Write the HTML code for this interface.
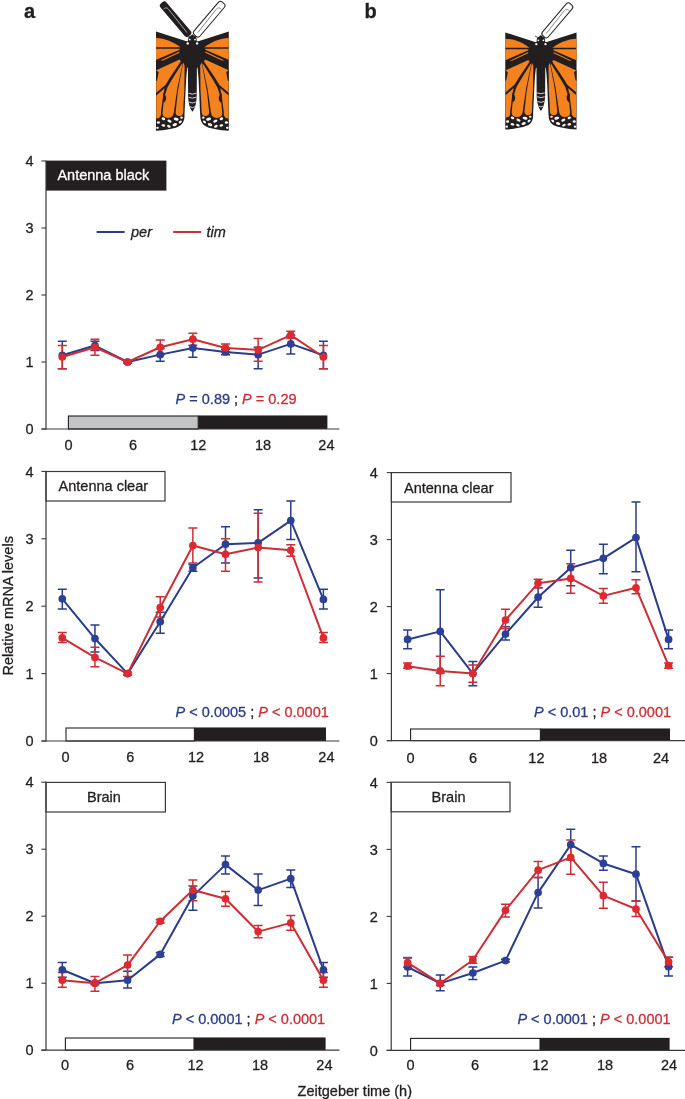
<!DOCTYPE html>
<html><head><meta charset="utf-8"><title>Figure</title>
<style>
html,body{margin:0;padding:0;background:#fff;}
body{width:685px;height:1099px;overflow:hidden;}
svg{display:block;font-family:"Liberation Sans", sans-serif;will-change:transform;filter:blur(0.3px);}
text,tspan{stroke-linejoin:round;}
</style></head><body>
<svg width="685" height="1099" viewBox="0 0 685 1099">
<rect width="685" height="1099" fill="#fff"/>
<rect x="46" y="160.6" width="120.4" height="30" fill="#231f20"/>
<text x="57.4" y="180.2" fill="#ffffff" font-size="14.5" stroke="#ffffff" stroke-width="0.3">Antenna black</text>
<line x1="46" y1="160.6" x2="46" y2="429.6" stroke="#3a3a3a" stroke-width="1.2"/>
<line x1="41.4" y1="429" x2="46" y2="429" stroke="#3a3a3a" stroke-width="1.1"/>
<text x="33.6" y="434.1" fill="#231f20" font-size="14.5" text-anchor="end" stroke="#231f20" stroke-width="0.3">0</text>
<line x1="41.4" y1="362" x2="46" y2="362" stroke="#3a3a3a" stroke-width="1.1"/>
<text x="33.6" y="367.1" fill="#231f20" font-size="14.5" text-anchor="end" stroke="#231f20" stroke-width="0.3">1</text>
<line x1="41.4" y1="295" x2="46" y2="295" stroke="#3a3a3a" stroke-width="1.1"/>
<text x="33.6" y="300.1" fill="#231f20" font-size="14.5" text-anchor="end" stroke="#231f20" stroke-width="0.3">2</text>
<line x1="41.4" y1="228" x2="46" y2="228" stroke="#3a3a3a" stroke-width="1.1"/>
<text x="33.6" y="233.1" fill="#231f20" font-size="14.5" text-anchor="end" stroke="#231f20" stroke-width="0.3">3</text>
<line x1="41.4" y1="161" x2="46" y2="161" stroke="#3a3a3a" stroke-width="1.1"/>
<text x="33.6" y="166.1" fill="#231f20" font-size="14.5" text-anchor="end" stroke="#231f20" stroke-width="0.3">4</text>
<rect x="68.4" y="416" width="129.8" height="13" fill="#c2c4c6" stroke="#231f20" stroke-width="1.1"/>
<rect x="198.2" y="415.45" width="129.2" height="13.55" fill="#231f20"/>
<line x1="41.4" y1="429" x2="339.4" y2="429" stroke="#3a3a3a" stroke-width="1.2"/>
<text x="68.6" y="450" fill="#231f20" font-size="14.5" text-anchor="middle" stroke="#231f20" stroke-width="0.3">0</text>
<text x="133" y="450" fill="#231f20" font-size="14.5" text-anchor="middle" stroke="#231f20" stroke-width="0.3">6</text>
<text x="198.2" y="450" fill="#231f20" font-size="14.5" text-anchor="middle" stroke="#231f20" stroke-width="0.3">12</text>
<text x="263" y="450" fill="#231f20" font-size="14.5" text-anchor="middle" stroke="#231f20" stroke-width="0.3">18</text>
<text x="326.4" y="450" fill="#231f20" font-size="14.5" text-anchor="middle" stroke="#231f20" stroke-width="0.3">24</text>
<text x="175.6" y="403.6" font-size="14.5" xml:space="preserve"><tspan fill="#2b3c88" font-style="italic" stroke="#2b3c88" stroke-width="0.3">P</tspan><tspan fill="#2b3c88" stroke="#2b3c88" stroke-width="0.3">&#160;=&#160;0.89&#160;</tspan><tspan fill="#231f20" stroke="#231f20" stroke-width="0.3">;&#160;</tspan><tspan fill="#cc2e36" font-style="italic" stroke="#cc2e36" stroke-width="0.3">P</tspan><tspan fill="#cc2e36" stroke="#cc2e36" stroke-width="0.3">&#160;=&#160;0.29</tspan></text>
<path d="M62.3 341.23V368.7M57.8 341.23h9M57.8 368.7h9M94.94 341.23V350.61M90.44 341.23h9M90.44 350.61h9M127.58 360.66V363.34M123.08 360.66h9M123.08 363.34h9M160.22 348.6V361.33M155.72 348.6h9M155.72 361.33h9M192.86 340.56V357.31M188.36 340.56h9M188.36 357.31h9M225.5 349.27V354.63M221 349.27h9M221 354.63h9M258.14 347.26V368.7M253.64 347.26h9M253.64 368.7h9M290.78 335.2V353.96M286.28 335.2h9M286.28 353.96h9M323.42 341.23V368.7M318.92 341.23h9M318.92 368.7h9" stroke="#2b3c88" stroke-width="1.5" fill="none"/>
<path d="M62.3 345.58V368.7M57.8 345.58h9M57.8 368.7h9M94.94 339.22V355.3M90.44 339.22h9M90.44 355.3h9M127.58 360.66V363.34M123.08 360.66h9M123.08 363.34h9M160.22 339.89V354.63M155.72 339.89h9M155.72 354.63h9M192.86 333.19V345.25M188.36 333.19h9M188.36 345.25h9M225.5 343.91V351.95M221 343.91h9M221 351.95h9M258.14 338.55V361.33M253.64 338.55h9M253.64 361.33h9M290.78 331.18V338.55M286.28 331.18h9M286.28 338.55h9M323.42 345.58V368.7M318.92 345.58h9M318.92 368.7h9" stroke="#cc2e36" stroke-width="1.5" fill="none"/>
<polyline points="62.3,355.3 94.94,345.58 127.58,362 160.22,354.63 192.86,347.93 225.5,351.95 258.14,354.63 290.78,343.91 323.42,355.3" stroke="#2b3c88" stroke-width="2" fill="none" stroke-linejoin="round"/>
<polyline points="62.3,356.98 94.94,347.26 127.58,362 160.22,347.26 192.86,339.22 225.5,347.93 258.14,349.94 290.78,335.2 323.42,356.98" stroke="#cc2e36" stroke-width="2" fill="none" stroke-linejoin="round"/>
<circle cx="62.3" cy="355.3" r="3.85" fill="#2c4193"/>
<circle cx="94.94" cy="345.58" r="3.85" fill="#2c4193"/>
<circle cx="127.58" cy="362" r="3.85" fill="#2c4193"/>
<circle cx="160.22" cy="354.63" r="3.85" fill="#2c4193"/>
<circle cx="192.86" cy="347.93" r="3.85" fill="#2c4193"/>
<circle cx="225.5" cy="351.95" r="3.85" fill="#2c4193"/>
<circle cx="258.14" cy="354.63" r="3.85" fill="#2c4193"/>
<circle cx="290.78" cy="343.91" r="3.85" fill="#2c4193"/>
<circle cx="323.42" cy="355.3" r="3.85" fill="#2c4193"/>
<circle cx="62.3" cy="356.98" r="3.85" fill="#dd2a30"/>
<circle cx="94.94" cy="347.26" r="3.85" fill="#dd2a30"/>
<circle cx="127.58" cy="362" r="3.85" fill="#dd2a30"/>
<circle cx="160.22" cy="347.26" r="3.85" fill="#dd2a30"/>
<circle cx="192.86" cy="339.22" r="3.85" fill="#dd2a30"/>
<circle cx="225.5" cy="347.93" r="3.85" fill="#dd2a30"/>
<circle cx="258.14" cy="349.94" r="3.85" fill="#dd2a30"/>
<circle cx="290.78" cy="335.2" r="3.85" fill="#dd2a30"/>
<circle cx="323.42" cy="356.98" r="3.85" fill="#dd2a30"/>
<rect x="46" y="471.5" width="119" height="29.5" fill="#fff" stroke="#3a3a3a" stroke-width="1.2"/>
<text x="58.6" y="491.2" fill="#231f20" font-size="14.5" stroke="#231f20" stroke-width="0.3">Antenna clear</text>
<line x1="46" y1="471" x2="46" y2="741.6" stroke="#3a3a3a" stroke-width="1.2"/>
<line x1="41.4" y1="741" x2="46" y2="741" stroke="#3a3a3a" stroke-width="1.1"/>
<text x="33.6" y="746.1" fill="#231f20" font-size="14.5" text-anchor="end" stroke="#231f20" stroke-width="0.3">0</text>
<line x1="41.4" y1="673.6" x2="46" y2="673.6" stroke="#3a3a3a" stroke-width="1.1"/>
<text x="33.6" y="678.7" fill="#231f20" font-size="14.5" text-anchor="end" stroke="#231f20" stroke-width="0.3">1</text>
<line x1="41.4" y1="606.2" x2="46" y2="606.2" stroke="#3a3a3a" stroke-width="1.1"/>
<text x="33.6" y="611.3" fill="#231f20" font-size="14.5" text-anchor="end" stroke="#231f20" stroke-width="0.3">2</text>
<line x1="41.4" y1="538.8" x2="46" y2="538.8" stroke="#3a3a3a" stroke-width="1.1"/>
<text x="33.6" y="543.9" fill="#231f20" font-size="14.5" text-anchor="end" stroke="#231f20" stroke-width="0.3">3</text>
<line x1="41.4" y1="471.4" x2="46" y2="471.4" stroke="#3a3a3a" stroke-width="1.1"/>
<text x="33.6" y="476.5" fill="#231f20" font-size="14.5" text-anchor="end" stroke="#231f20" stroke-width="0.3">4</text>
<rect x="66" y="728" width="128.4" height="13" fill="#ffffff" stroke="#231f20" stroke-width="1.1"/>
<rect x="194.4" y="727.45" width="131.6" height="13.55" fill="#231f20"/>
<line x1="41.4" y1="741" x2="339.4" y2="741" stroke="#3a3a3a" stroke-width="1.2"/>
<text x="65.6" y="762.4" fill="#231f20" font-size="14.5" text-anchor="middle" stroke="#231f20" stroke-width="0.3">0</text>
<text x="130.4" y="762.4" fill="#231f20" font-size="14.5" text-anchor="middle" stroke="#231f20" stroke-width="0.3">6</text>
<text x="196" y="762.4" fill="#231f20" font-size="14.5" text-anchor="middle" stroke="#231f20" stroke-width="0.3">12</text>
<text x="261" y="762.4" fill="#231f20" font-size="14.5" text-anchor="middle" stroke="#231f20" stroke-width="0.3">18</text>
<text x="326.4" y="762.4" fill="#231f20" font-size="14.5" text-anchor="middle" stroke="#231f20" stroke-width="0.3">24</text>
<text x="175.6" y="716.8" font-size="14.5" xml:space="preserve"><tspan fill="#2b3c88" font-style="italic" stroke="#2b3c88" stroke-width="0.3">P</tspan><tspan fill="#2b3c88" stroke="#2b3c88" stroke-width="0.3">&#160;&lt;&#160;0.0005&#160;</tspan><tspan fill="#231f20" stroke="#231f20" stroke-width="0.3">;&#160;</tspan><tspan fill="#cc2e36" font-style="italic" stroke="#cc2e36" stroke-width="0.3">P</tspan><tspan fill="#cc2e36" stroke="#cc2e36" stroke-width="0.3">&#160;&lt;&#160;0.0001</tspan></text>
<path d="M62.3 589.35V608.9M57.8 589.35h9M57.8 608.9h9M94.94 625.07V652.03M90.44 625.07h9M90.44 652.03h9M127.58 672.25V674.95M123.08 672.25h9M123.08 674.95h9M160.22 612.27V633.16M155.72 612.27h9M155.72 633.16h9M192.86 564.41V571.15M188.36 564.41h9M188.36 571.15h9M225.5 526.67V563.06M221 526.67h9M221 563.06h9M258.14 509.82V577.89M253.64 509.82h9M253.64 577.89h9M290.78 501.06V539.47M286.28 501.06h9M286.28 539.47h9M323.42 589.35V608.9M318.92 589.35h9M318.92 608.9h9" stroke="#2b3c88" stroke-width="1.5" fill="none"/>
<path d="M62.3 632.49V642.6M57.8 632.49h9M57.8 642.6h9M94.94 647.31V666.86M90.44 647.31h9M90.44 666.86h9M127.58 672.25V674.95M123.08 672.25h9M123.08 674.95h9M160.22 596.76V616.98M155.72 596.76h9M155.72 616.98h9M192.86 528.02V563.06M188.36 528.02h9M188.36 563.06h9M225.5 538.8V571.15M221 538.8h9M221 571.15h9M258.14 513.19V581.94M253.64 513.19h9M253.64 581.94h9M290.78 544.87V556.32M286.28 544.87h9M286.28 556.32h9M323.42 632.49V642.6M318.92 632.49h9M318.92 642.6h9" stroke="#cc2e36" stroke-width="1.5" fill="none"/>
<polyline points="62.3,598.79 94.94,638.55 127.58,673.6 160.22,621.7 192.86,567.78 225.5,544.19 258.14,542.84 290.78,520.6 323.42,599.46" stroke="#2b3c88" stroke-width="2" fill="none" stroke-linejoin="round"/>
<polyline points="62.3,637.88 94.94,657.42 127.58,673.6 160.22,607.55 192.86,545.54 225.5,554.3 258.14,547.56 290.78,550.26 323.42,637.88" stroke="#cc2e36" stroke-width="2" fill="none" stroke-linejoin="round"/>
<circle cx="62.3" cy="598.79" r="3.85" fill="#2c4193"/>
<circle cx="94.94" cy="638.55" r="3.85" fill="#2c4193"/>
<circle cx="127.58" cy="673.6" r="3.85" fill="#2c4193"/>
<circle cx="160.22" cy="621.7" r="3.85" fill="#2c4193"/>
<circle cx="192.86" cy="567.78" r="3.85" fill="#2c4193"/>
<circle cx="225.5" cy="544.19" r="3.85" fill="#2c4193"/>
<circle cx="258.14" cy="542.84" r="3.85" fill="#2c4193"/>
<circle cx="290.78" cy="520.6" r="3.85" fill="#2c4193"/>
<circle cx="323.42" cy="599.46" r="3.85" fill="#2c4193"/>
<circle cx="62.3" cy="637.88" r="3.85" fill="#dd2a30"/>
<circle cx="94.94" cy="657.42" r="3.85" fill="#dd2a30"/>
<circle cx="127.58" cy="673.6" r="3.85" fill="#dd2a30"/>
<circle cx="160.22" cy="607.55" r="3.85" fill="#dd2a30"/>
<circle cx="192.86" cy="545.54" r="3.85" fill="#dd2a30"/>
<circle cx="225.5" cy="554.3" r="3.85" fill="#dd2a30"/>
<circle cx="258.14" cy="547.56" r="3.85" fill="#dd2a30"/>
<circle cx="290.78" cy="550.26" r="3.85" fill="#dd2a30"/>
<circle cx="323.42" cy="637.88" r="3.85" fill="#dd2a30"/>
<rect x="46" y="782.4" width="119.4" height="29.6" fill="#fff" stroke="#3a3a3a" stroke-width="1.2"/>
<text x="87" y="801.6" fill="#231f20" font-size="14.5" stroke="#231f20" stroke-width="0.3">Brain</text>
<line x1="46" y1="781.8" x2="46" y2="1050.8" stroke="#3a3a3a" stroke-width="1.2"/>
<line x1="41.4" y1="1050.2" x2="46" y2="1050.2" stroke="#3a3a3a" stroke-width="1.1"/>
<text x="33.6" y="1055.3" fill="#231f20" font-size="14.5" text-anchor="end" stroke="#231f20" stroke-width="0.3">0</text>
<line x1="41.4" y1="983.2" x2="46" y2="983.2" stroke="#3a3a3a" stroke-width="1.1"/>
<text x="33.6" y="988.3" fill="#231f20" font-size="14.5" text-anchor="end" stroke="#231f20" stroke-width="0.3">1</text>
<line x1="41.4" y1="916.2" x2="46" y2="916.2" stroke="#3a3a3a" stroke-width="1.1"/>
<text x="33.6" y="921.3" fill="#231f20" font-size="14.5" text-anchor="end" stroke="#231f20" stroke-width="0.3">2</text>
<line x1="41.4" y1="849.2" x2="46" y2="849.2" stroke="#3a3a3a" stroke-width="1.1"/>
<text x="33.6" y="854.3" fill="#231f20" font-size="14.5" text-anchor="end" stroke="#231f20" stroke-width="0.3">3</text>
<line x1="41.4" y1="782.2" x2="46" y2="782.2" stroke="#3a3a3a" stroke-width="1.1"/>
<text x="33.6" y="787.3" fill="#231f20" font-size="14.5" text-anchor="end" stroke="#231f20" stroke-width="0.3">4</text>
<rect x="65.4" y="1038" width="128.6" height="12.2" fill="#ffffff" stroke="#231f20" stroke-width="1.1"/>
<rect x="194" y="1037.45" width="131.6" height="12.75" fill="#231f20"/>
<line x1="41.4" y1="1050.2" x2="339.4" y2="1050.2" stroke="#3a3a3a" stroke-width="1.2"/>
<text x="65" y="1069.6" fill="#231f20" font-size="14.5" text-anchor="middle" stroke="#231f20" stroke-width="0.3">0</text>
<text x="130" y="1069.6" fill="#231f20" font-size="14.5" text-anchor="middle" stroke="#231f20" stroke-width="0.3">6</text>
<text x="195.6" y="1069.6" fill="#231f20" font-size="14.5" text-anchor="middle" stroke="#231f20" stroke-width="0.3">12</text>
<text x="260" y="1069.6" fill="#231f20" font-size="14.5" text-anchor="middle" stroke="#231f20" stroke-width="0.3">18</text>
<text x="324.4" y="1069.6" fill="#231f20" font-size="14.5" text-anchor="middle" stroke="#231f20" stroke-width="0.3">24</text>
<text x="172" y="1024.4" font-size="14.5" xml:space="preserve"><tspan fill="#2b3c88" font-style="italic" stroke="#2b3c88" stroke-width="0.3">P</tspan><tspan fill="#2b3c88" stroke="#2b3c88" stroke-width="0.3">&#160;&lt;&#160;0.0001&#160;</tspan><tspan fill="#231f20" stroke="#231f20" stroke-width="0.3">;&#160;</tspan><tspan fill="#cc2e36" font-style="italic" stroke="#cc2e36" stroke-width="0.3">P</tspan><tspan fill="#cc2e36" stroke="#cc2e36" stroke-width="0.3">&#160;&lt;&#160;0.0001</tspan></text>
<path d="M62.3 962.43V977.17M57.8 962.43h9M57.8 977.17h9M94.94 981.86V984.54M90.44 981.86h9M90.44 984.54h9M127.58 971.14V987.89M123.08 971.14h9M123.08 987.89h9M160.22 952.38V956.4M155.72 952.38h9M155.72 956.4h9M192.86 886.05V910.17M188.36 886.05h9M188.36 910.17h9M225.5 855.9V873.99M221 855.9h9M221 873.99h9M258.14 873.99V905.48M253.64 873.99h9M253.64 905.48h9M290.78 869.97V887.39M286.28 869.97h9M286.28 887.39h9M323.42 962.43V977.17M318.92 962.43h9M318.92 977.17h9" stroke="#2b3c88" stroke-width="1.5" fill="none"/>
<path d="M62.3 972.48V987.22M57.8 972.48h9M57.8 987.22h9M94.94 976.5V991.24M90.44 976.5h9M90.44 991.24h9M127.58 955.06V976.5M123.08 955.06h9M123.08 976.5h9M160.22 919.55V922.9M155.72 919.55h9M155.72 922.9h9M192.86 880.02V900.79M188.36 880.02h9M188.36 900.79h9M225.5 891.41V906.15M221 891.41h9M221 906.15h9M258.14 925.58V937.64M253.64 925.58h9M253.64 937.64h9M290.78 915.53V930.27M286.28 915.53h9M286.28 930.27h9M323.42 972.48V987.22M318.92 972.48h9M318.92 987.22h9" stroke="#cc2e36" stroke-width="1.5" fill="none"/>
<polyline points="62.3,969.8 94.94,983.2 127.58,980.19 160.22,954.39 192.86,896.1 225.5,864.61 258.14,890.07 290.78,878.68 323.42,969.8" stroke="#2b3c88" stroke-width="2" fill="none" stroke-linejoin="round"/>
<polyline points="62.3,980.19 94.94,983.2 127.58,965.11 160.22,921.23 192.86,890.07 225.5,898.78 258.14,931.61 290.78,922.9 323.42,980.19" stroke="#cc2e36" stroke-width="2" fill="none" stroke-linejoin="round"/>
<circle cx="62.3" cy="969.8" r="3.85" fill="#2c4193"/>
<circle cx="94.94" cy="983.2" r="3.85" fill="#2c4193"/>
<circle cx="127.58" cy="980.19" r="3.85" fill="#2c4193"/>
<circle cx="160.22" cy="954.39" r="3.85" fill="#2c4193"/>
<circle cx="192.86" cy="896.1" r="3.85" fill="#2c4193"/>
<circle cx="225.5" cy="864.61" r="3.85" fill="#2c4193"/>
<circle cx="258.14" cy="890.07" r="3.85" fill="#2c4193"/>
<circle cx="290.78" cy="878.68" r="3.85" fill="#2c4193"/>
<circle cx="323.42" cy="969.8" r="3.85" fill="#2c4193"/>
<circle cx="62.3" cy="980.19" r="3.85" fill="#dd2a30"/>
<circle cx="94.94" cy="983.2" r="3.85" fill="#dd2a30"/>
<circle cx="127.58" cy="965.11" r="3.85" fill="#dd2a30"/>
<circle cx="160.22" cy="921.23" r="3.85" fill="#dd2a30"/>
<circle cx="192.86" cy="890.07" r="3.85" fill="#dd2a30"/>
<circle cx="225.5" cy="898.78" r="3.85" fill="#dd2a30"/>
<circle cx="258.14" cy="931.61" r="3.85" fill="#dd2a30"/>
<circle cx="290.78" cy="922.9" r="3.85" fill="#dd2a30"/>
<circle cx="323.42" cy="980.19" r="3.85" fill="#dd2a30"/>
<rect x="391.4" y="472.6" width="119.6" height="29.4" fill="#fff" stroke="#3a3a3a" stroke-width="1.2"/>
<text x="404" y="493" fill="#231f20" font-size="14.5" stroke="#231f20" stroke-width="0.3">Antenna clear</text>
<line x1="391.4" y1="472.2" x2="391.4" y2="741.2" stroke="#3a3a3a" stroke-width="1.2"/>
<line x1="386.8" y1="740.6" x2="391.4" y2="740.6" stroke="#3a3a3a" stroke-width="1.1"/>
<text x="377.8" y="745.7" fill="#231f20" font-size="14.5" text-anchor="end" stroke="#231f20" stroke-width="0.3">0</text>
<line x1="386.8" y1="673.6" x2="391.4" y2="673.6" stroke="#3a3a3a" stroke-width="1.1"/>
<text x="377.8" y="678.7" fill="#231f20" font-size="14.5" text-anchor="end" stroke="#231f20" stroke-width="0.3">1</text>
<line x1="386.8" y1="606.6" x2="391.4" y2="606.6" stroke="#3a3a3a" stroke-width="1.1"/>
<text x="377.8" y="611.7" fill="#231f20" font-size="14.5" text-anchor="end" stroke="#231f20" stroke-width="0.3">2</text>
<line x1="386.8" y1="539.6" x2="391.4" y2="539.6" stroke="#3a3a3a" stroke-width="1.1"/>
<text x="377.8" y="544.7" fill="#231f20" font-size="14.5" text-anchor="end" stroke="#231f20" stroke-width="0.3">3</text>
<line x1="386.8" y1="472.6" x2="391.4" y2="472.6" stroke="#3a3a3a" stroke-width="1.1"/>
<text x="377.8" y="477.7" fill="#231f20" font-size="14.5" text-anchor="end" stroke="#231f20" stroke-width="0.3">4</text>
<rect x="410.6" y="729" width="129.8" height="11.6" fill="#ffffff" stroke="#231f20" stroke-width="1.1"/>
<rect x="540.4" y="728.45" width="129.6" height="12.15" fill="#231f20"/>
<line x1="386.8" y1="740.6" x2="685" y2="740.6" stroke="#3a3a3a" stroke-width="1.2"/>
<text x="410.6" y="762.6" fill="#231f20" font-size="14.5" text-anchor="middle" stroke="#231f20" stroke-width="0.3">0</text>
<text x="473" y="762.6" fill="#231f20" font-size="14.5" text-anchor="middle" stroke="#231f20" stroke-width="0.3">6</text>
<text x="536.4" y="762.6" fill="#231f20" font-size="14.5" text-anchor="middle" stroke="#231f20" stroke-width="0.3">12</text>
<text x="599" y="762.6" fill="#231f20" font-size="14.5" text-anchor="middle" stroke="#231f20" stroke-width="0.3">18</text>
<text x="661" y="762.6" fill="#231f20" font-size="14.5" text-anchor="middle" stroke="#231f20" stroke-width="0.3">24</text>
<text x="534" y="717" font-size="14.5" xml:space="preserve"><tspan fill="#2b3c88" font-style="italic" stroke="#2b3c88" stroke-width="0.3">P</tspan><tspan fill="#2b3c88" stroke="#2b3c88" stroke-width="0.3">&#160;&lt;&#160;0.01&#160;</tspan><tspan fill="#231f20" stroke="#231f20" stroke-width="0.3">;&#160;</tspan><tspan fill="#cc2e36" font-style="italic" stroke="#cc2e36" stroke-width="0.3">P</tspan><tspan fill="#cc2e36" stroke="#cc2e36" stroke-width="0.3">&#160;&lt;&#160;0.0001</tspan></text>
<path d="M407.6 630.05V648.81M403.1 630.05h9M403.1 648.81h9M440.23 589.85V672.93M435.73 589.85h9M435.73 672.93h9M472.85 661.54V685.66M468.35 661.54h9M468.35 685.66h9M505.48 626.7V640.1M500.98 626.7h9M500.98 640.1h9M538.1 587.84V607.27M533.6 587.84h9M533.6 607.27h9M570.73 550.32V585.83M566.23 550.32h9M566.23 585.83h9M603.35 544.29V573.77M598.85 544.29h9M598.85 573.77h9M635.98 502.08V571.76M631.48 502.08h9M631.48 571.76h9M668.6 630.05V648.81M664.1 630.05h9M664.1 648.81h9" stroke="#2b3c88" stroke-width="1.5" fill="none"/>
<path d="M407.6 662.88V668.24M403.1 662.88h9M403.1 668.24h9M440.23 656.18V685.66M435.73 656.18h9M435.73 685.66h9M472.85 664.89V682.31M468.35 664.89h9M468.35 682.31h9M505.48 609.28V628.71M500.98 609.28h9M500.98 628.71h9M538.1 579.13V587.84M533.6 579.13h9M533.6 587.84h9M570.73 563.72V593.2M566.23 563.72h9M566.23 593.2h9M603.35 588.51V603.25M598.85 588.51h9M598.85 603.25h9M635.98 579.8V593.87M631.48 579.8h9M631.48 593.87h9M668.6 662.88V668.24M664.1 662.88h9M664.1 668.24h9" stroke="#cc2e36" stroke-width="1.5" fill="none"/>
<polyline points="407.6,639.43 440.23,631.39 472.85,673.6 505.48,634.07 538.1,597.22 570.73,567.74 603.35,558.36 635.98,537.59 668.6,639.43" stroke="#2b3c88" stroke-width="2" fill="none" stroke-linejoin="round"/>
<polyline points="407.6,666.23 440.23,670.92 472.85,673.6 505.48,620 538.1,583.15 570.73,578.46 603.35,595.88 635.98,587.84 668.6,665.56" stroke="#cc2e36" stroke-width="2" fill="none" stroke-linejoin="round"/>
<circle cx="407.6" cy="639.43" r="3.85" fill="#2c4193"/>
<circle cx="440.23" cy="631.39" r="3.85" fill="#2c4193"/>
<circle cx="472.85" cy="673.6" r="3.85" fill="#2c4193"/>
<circle cx="505.48" cy="634.07" r="3.85" fill="#2c4193"/>
<circle cx="538.1" cy="597.22" r="3.85" fill="#2c4193"/>
<circle cx="570.73" cy="567.74" r="3.85" fill="#2c4193"/>
<circle cx="603.35" cy="558.36" r="3.85" fill="#2c4193"/>
<circle cx="635.98" cy="537.59" r="3.85" fill="#2c4193"/>
<circle cx="668.6" cy="639.43" r="3.85" fill="#2c4193"/>
<circle cx="407.6" cy="666.23" r="3.85" fill="#dd2a30"/>
<circle cx="440.23" cy="670.92" r="3.85" fill="#dd2a30"/>
<circle cx="472.85" cy="673.6" r="3.85" fill="#dd2a30"/>
<circle cx="505.48" cy="620" r="3.85" fill="#dd2a30"/>
<circle cx="538.1" cy="583.15" r="3.85" fill="#dd2a30"/>
<circle cx="570.73" cy="578.46" r="3.85" fill="#dd2a30"/>
<circle cx="603.35" cy="595.88" r="3.85" fill="#dd2a30"/>
<circle cx="635.98" cy="587.84" r="3.85" fill="#dd2a30"/>
<circle cx="668.6" cy="665.56" r="3.85" fill="#dd2a30"/>
<rect x="391.2" y="782.2" width="118.8" height="29.6" fill="#fff" stroke="#3a3a3a" stroke-width="1.2"/>
<text x="431.6" y="801.6" fill="#231f20" font-size="14.5" stroke="#231f20" stroke-width="0.3">Brain</text>
<line x1="391.2" y1="782" x2="391.2" y2="1051" stroke="#3a3a3a" stroke-width="1.2"/>
<line x1="386.6" y1="1050.4" x2="391.2" y2="1050.4" stroke="#3a3a3a" stroke-width="1.1"/>
<text x="377.8" y="1055.5" fill="#231f20" font-size="14.5" text-anchor="end" stroke="#231f20" stroke-width="0.3">0</text>
<line x1="386.6" y1="983.4" x2="391.2" y2="983.4" stroke="#3a3a3a" stroke-width="1.1"/>
<text x="377.8" y="988.5" fill="#231f20" font-size="14.5" text-anchor="end" stroke="#231f20" stroke-width="0.3">1</text>
<line x1="386.6" y1="916.4" x2="391.2" y2="916.4" stroke="#3a3a3a" stroke-width="1.1"/>
<text x="377.8" y="921.5" fill="#231f20" font-size="14.5" text-anchor="end" stroke="#231f20" stroke-width="0.3">2</text>
<line x1="386.6" y1="849.4" x2="391.2" y2="849.4" stroke="#3a3a3a" stroke-width="1.1"/>
<text x="377.8" y="854.5" fill="#231f20" font-size="14.5" text-anchor="end" stroke="#231f20" stroke-width="0.3">3</text>
<line x1="386.6" y1="782.4" x2="391.2" y2="782.4" stroke="#3a3a3a" stroke-width="1.1"/>
<text x="377.8" y="787.5" fill="#231f20" font-size="14.5" text-anchor="end" stroke="#231f20" stroke-width="0.3">4</text>
<rect x="410.6" y="1038.4" width="129.4" height="12" fill="#ffffff" stroke="#231f20" stroke-width="1.1"/>
<rect x="540" y="1037.85" width="129.6" height="12.55" fill="#231f20"/>
<line x1="386.6" y1="1050.4" x2="685" y2="1050.4" stroke="#3a3a3a" stroke-width="1.2"/>
<text x="410.6" y="1069.6" fill="#231f20" font-size="14.5" text-anchor="middle" stroke="#231f20" stroke-width="0.3">0</text>
<text x="475" y="1069.6" fill="#231f20" font-size="14.5" text-anchor="middle" stroke="#231f20" stroke-width="0.3">6</text>
<text x="540.4" y="1069.6" fill="#231f20" font-size="14.5" text-anchor="middle" stroke="#231f20" stroke-width="0.3">12</text>
<text x="605" y="1069.6" fill="#231f20" font-size="14.5" text-anchor="middle" stroke="#231f20" stroke-width="0.3">18</text>
<text x="669" y="1069.6" fill="#231f20" font-size="14.5" text-anchor="middle" stroke="#231f20" stroke-width="0.3">24</text>
<text x="517.4" y="1024.4" font-size="14.5" xml:space="preserve"><tspan fill="#2b3c88" font-style="italic" stroke="#2b3c88" stroke-width="0.3">P</tspan><tspan fill="#2b3c88" stroke="#2b3c88" stroke-width="0.3">&#160;&lt;&#160;0.0001&#160;</tspan><tspan fill="#231f20" stroke="#231f20" stroke-width="0.3">;&#160;</tspan><tspan fill="#cc2e36" font-style="italic" stroke="#cc2e36" stroke-width="0.3">P</tspan><tspan fill="#cc2e36" stroke="#cc2e36" stroke-width="0.3">&#160;&lt;&#160;0.0001</tspan></text>
<path d="M407.6 957.94V976.03M403.1 957.94h9M403.1 976.03h9M440.23 975.03V990.77M435.73 975.03h9M435.73 990.77h9M472.85 966.99V979.38M468.35 966.99h9M468.35 979.38h9M505.48 959.28V961.96M500.98 959.28h9M500.98 961.96h9M538.1 877.54V908.03M533.6 877.54h9M533.6 908.03h9M570.73 829.3V860.12M566.23 829.3h9M566.23 860.12h9M603.35 856.1V870.17M598.85 856.1h9M598.85 870.17h9M635.98 846.72V900.99M631.48 846.72h9M631.48 900.99h9M668.6 957.27V976.03M664.1 957.27h9M664.1 976.03h9" stroke="#2b3c88" stroke-width="1.5" fill="none"/>
<path d="M407.6 957.61V967.32M403.1 957.61h9M403.1 967.32h9M440.23 981.39V985.41M435.73 981.39h9M435.73 985.41h9M472.85 956.6V963.3M468.35 956.6h9M468.35 963.3h9M505.48 904.34V917.07M500.98 904.34h9M500.98 917.07h9M538.1 861.46V877.54M533.6 861.46h9M533.6 877.54h9M570.73 840.02V874.19M566.23 840.02h9M566.23 874.19h9M603.35 882.23V908.36M598.85 882.23h9M598.85 908.36h9M635.98 900.99V916.4M631.48 900.99h9M631.48 916.4h9M668.6 957.27V966.65M664.1 957.27h9M664.1 966.65h9" stroke="#cc2e36" stroke-width="1.5" fill="none"/>
<polyline points="407.6,966.99 440.23,983.4 472.85,973.02 505.48,960.62 538.1,892.62 570.73,844.71 603.35,863.47 635.98,874.19 668.6,966.65" stroke="#2b3c88" stroke-width="2" fill="none" stroke-linejoin="round"/>
<polyline points="407.6,962.63 440.23,983.4 472.85,959.95 505.48,910.37 538.1,870.17 570.73,857.44 603.35,895.63 635.98,909.03 668.6,961.96" stroke="#cc2e36" stroke-width="2" fill="none" stroke-linejoin="round"/>
<circle cx="407.6" cy="966.99" r="3.85" fill="#2c4193"/>
<circle cx="440.23" cy="983.4" r="3.85" fill="#2c4193"/>
<circle cx="472.85" cy="973.02" r="3.85" fill="#2c4193"/>
<circle cx="505.48" cy="960.62" r="3.85" fill="#2c4193"/>
<circle cx="538.1" cy="892.62" r="3.85" fill="#2c4193"/>
<circle cx="570.73" cy="844.71" r="3.85" fill="#2c4193"/>
<circle cx="603.35" cy="863.47" r="3.85" fill="#2c4193"/>
<circle cx="635.98" cy="874.19" r="3.85" fill="#2c4193"/>
<circle cx="668.6" cy="966.65" r="3.85" fill="#2c4193"/>
<circle cx="407.6" cy="962.63" r="3.85" fill="#dd2a30"/>
<circle cx="440.23" cy="983.4" r="3.85" fill="#dd2a30"/>
<circle cx="472.85" cy="959.95" r="3.85" fill="#dd2a30"/>
<circle cx="505.48" cy="910.37" r="3.85" fill="#dd2a30"/>
<circle cx="538.1" cy="870.17" r="3.85" fill="#dd2a30"/>
<circle cx="570.73" cy="857.44" r="3.85" fill="#dd2a30"/>
<circle cx="603.35" cy="895.63" r="3.85" fill="#dd2a30"/>
<circle cx="635.98" cy="909.03" r="3.85" fill="#dd2a30"/>
<circle cx="668.6" cy="961.96" r="3.85" fill="#dd2a30"/>
<line x1="96.6" y1="232" x2="124.6" y2="232" stroke="#2b3c88" stroke-width="2"/>
<text x="131" y="236.6" font-size="14.5" font-style="italic" fill="#231f20" stroke="#231f20" stroke-width="0.3">per</text>
<line x1="173.2" y1="232" x2="201.2" y2="232" stroke="#cc2e36" stroke-width="2"/>
<text x="206.6" y="236.6" font-size="14.5" font-style="italic" fill="#231f20" stroke="#231f20" stroke-width="0.3">tim</text>
<text x="24" y="17.6" font-size="20" font-weight="bold" fill="#231f20" stroke="#231f20" stroke-width="0.3">a</text>
<text x="364.6" y="17.6" font-size="20" font-weight="bold" fill="#231f20" stroke="#231f20" stroke-width="0.3">b</text>
<text transform="translate(13.2 605.8) rotate(-90)" font-size="14.5" text-anchor="middle" fill="#231f20" stroke="#231f20" stroke-width="0.3">Relative mRNA levels</text>
<text x="354.8" y="1095.6" font-size="14.5" text-anchor="middle" fill="#231f20" stroke="#231f20" stroke-width="0.3">Zeitgeber time (h)</text>
<g><g><path fill="#231f20" d="M156 31.5 L186.5 41.2 L192.4 41.2 L192.4 67.5 L187.4 67.5 C186 75 185.3 100 184.5 116 C184.4 121.5 182.4 125 177.7 126.9 C173 128.7 166 130.1 156 130.8 Z"/><path fill="#f4821f" d="M156 37.9 C165 38.2 174 42 180.6 47.3 L156 47.3 Z"/><path fill="#f4821f" d="M156 48.7 L179.6 48.7 L179.6 49.7 L156.8 59.6 L156 59.6 Z"/><path fill="#f4821f" d="M160.4 60.6 L179.4 51.6 L179.4 52.8 L163 60.4 Z"/><path fill="#f4821f" d="M156.2 70.3 L179.6 59.6 L180.8 61.4 L170 77.5 L165.4 85.0 L156.2 92.8 Z"/><path fill="#f4821f" d="M156.2 95.6 L164.6 88.2 L163.2 95 L162.2 103 L161.0 112 L160.9 115.6 Q159.6 118.8 156.2 118.4 Z"/><path fill="#f4821f" d="M182.0 63.4 L182.4 64.4 L177.4 88 L175.6 100 L173.9 112 Q173.2 117.9 168 117.9 Q163 117.9 162.5 113.5 L163.4 104 L164.4 97 L167.4 87.6 L172 79.5 Z"/><path fill="#f4821f" d="M183.2 62.6 L184.6 65.6 L184.3 90 L183.5 104 L183.2 112.5 Q182.8 116 179.4 116 Q175.9 116 175.6 112.5 L176.9 100 L177.8 92 L179.2 84 Z"/><path fill="#231f20" d="M163 93.5 C166 94.5 166.8 98 165.4 101 L163.8 103 L163 98 Z"/><path fill="#231f20" d="M156 70 L158.6 72.2 L157.1 80.5 L156 81 Z"/><ellipse cx="163.4" cy="118.8" rx="1.8" ry="1.3" fill="#fff" transform="rotate(20 163.4 118.8)"/><ellipse cx="158.4" cy="122.5" rx="1.6" ry="1.3" fill="#fff" transform="rotate(0 158.4 122.5)"/><ellipse cx="169.5" cy="121.1" rx="2.2" ry="1.3" fill="#fff" transform="rotate(25 169.5 121.1)"/><ellipse cx="176.2" cy="119.1" rx="2.5" ry="1.4" fill="#fff" transform="rotate(15 176.2 119.1)"/><ellipse cx="181.5" cy="117.7" rx="1.3" ry="1.1" fill="#fff" transform="rotate(0 181.5 117.7)"/><ellipse cx="163.4" cy="125.4" rx="1.9" ry="1.2" fill="#fff" transform="rotate(10 163.4 125.4)"/><ellipse cx="168.9" cy="126.3" rx="1.9" ry="1.2" fill="#fff" transform="rotate(25 168.9 126.3)"/><ellipse cx="174.8" cy="124.6" rx="2.3" ry="1.4" fill="#fff" transform="rotate(-20 174.8 124.6)"/><ellipse cx="180.3" cy="121.9" rx="1.8" ry="1.1" fill="#fff" transform="rotate(-40 180.3 121.9)"/><ellipse cx="157.5" cy="127.8" rx="1.3" ry="1.1" fill="#fff" transform="rotate(0 157.5 127.8)"/></g><g transform="translate(384.8 0) scale(-1 1)"><path fill="#231f20" d="M156 31.5 L186.5 41.2 L192.4 41.2 L192.4 67.5 L187.4 67.5 C186 75 185.3 100 184.5 116 C184.4 121.5 182.4 125 177.7 126.9 C173 128.7 166 130.1 156 130.8 Z"/><path fill="#f4821f" d="M156 37.9 C165 38.2 174 42 180.6 47.3 L156 47.3 Z"/><path fill="#f4821f" d="M156 48.7 L179.6 48.7 L179.6 49.7 L156.8 59.6 L156 59.6 Z"/><path fill="#f4821f" d="M160.4 60.6 L179.4 51.6 L179.4 52.8 L163 60.4 Z"/><path fill="#f4821f" d="M156.2 70.3 L179.6 59.6 L180.8 61.4 L170 77.5 L165.4 85.0 L156.2 92.8 Z"/><path fill="#f4821f" d="M156.2 95.6 L164.6 88.2 L163.2 95 L162.2 103 L161.0 112 L160.9 115.6 Q159.6 118.8 156.2 118.4 Z"/><path fill="#f4821f" d="M182.0 63.4 L182.4 64.4 L177.4 88 L175.6 100 L173.9 112 Q173.2 117.9 168 117.9 Q163 117.9 162.5 113.5 L163.4 104 L164.4 97 L167.4 87.6 L172 79.5 Z"/><path fill="#f4821f" d="M183.2 62.6 L184.6 65.6 L184.3 90 L183.5 104 L183.2 112.5 Q182.8 116 179.4 116 Q175.9 116 175.6 112.5 L176.9 100 L177.8 92 L179.2 84 Z"/><path fill="#231f20" d="M163 93.5 C166 94.5 166.8 98 165.4 101 L163.8 103 L163 98 Z"/><path fill="#231f20" d="M156 70 L158.6 72.2 L157.1 80.5 L156 81 Z"/><ellipse cx="163.4" cy="118.8" rx="1.8" ry="1.3" fill="#fff" transform="rotate(20 163.4 118.8)"/><ellipse cx="158.4" cy="122.5" rx="1.6" ry="1.3" fill="#fff" transform="rotate(0 158.4 122.5)"/><ellipse cx="169.5" cy="121.1" rx="2.2" ry="1.3" fill="#fff" transform="rotate(25 169.5 121.1)"/><ellipse cx="176.2" cy="119.1" rx="2.5" ry="1.4" fill="#fff" transform="rotate(15 176.2 119.1)"/><ellipse cx="181.5" cy="117.7" rx="1.3" ry="1.1" fill="#fff" transform="rotate(0 181.5 117.7)"/><ellipse cx="163.4" cy="125.4" rx="1.9" ry="1.2" fill="#fff" transform="rotate(10 163.4 125.4)"/><ellipse cx="168.9" cy="126.3" rx="1.9" ry="1.2" fill="#fff" transform="rotate(25 168.9 126.3)"/><ellipse cx="174.8" cy="124.6" rx="2.3" ry="1.4" fill="#fff" transform="rotate(-20 174.8 124.6)"/><ellipse cx="180.3" cy="121.9" rx="1.8" ry="1.1" fill="#fff" transform="rotate(-40 180.3 121.9)"/><ellipse cx="157.5" cy="127.8" rx="1.3" ry="1.1" fill="#fff" transform="rotate(0 157.5 127.8)"/></g><g><ellipse cx="192.4" cy="52.2" rx="10.8" ry="10.6" fill="#231f20"/><path fill="#231f20" d="M183.6 57 L201.2 57 L196.8 67.6 L188 67.6 Z"/><path fill="#231f20" d="M188.4 37.5 L192.4 34.2 L196.4 37.5 L197.2 44 L187.6 44 Z"/><path fill="#231f20" d="M187.8 57 L197.0 57 L196.7 96 C196.5 103 194.9 109 192.4 111.7 C189.9 109 188.3 103 188.1 96 Z"/><path d="M188.4 93.2 Q192.4 95.1 196.4 93.2" stroke="#fff" stroke-width="0.8" fill="none"/><path d="M188.6 97.2 Q192.4 99.1 196.2 97.2" stroke="#fff" stroke-width="0.8" fill="none"/><path d="M189.0 102.0 Q192.4 103.9 195.8 102.0" stroke="#fff" stroke-width="0.8" fill="none"/><path d="M190.0 106.7 Q192.4 108.6 194.8 106.7" stroke="#fff" stroke-width="0.8" fill="none"/><circle cx="189.8" cy="39.6" r="0.9" fill="#fff"/><circle cx="195.0" cy="39.6" r="0.9" fill="#fff"/><circle cx="187.7" cy="43.4" r="1.2" fill="#fff"/><circle cx="197.1" cy="43.4" r="1.2" fill="#fff"/><path d="M190.6 37.4 L186.4 35.2 M194.2 37.4 L198.4 35.2" stroke="#231f20" stroke-width="0.8" fill="none"/></g><g><rect x="-21.5" y="-3.9" width="43" height="7.8" rx="2.8" fill="#231f20" transform="translate(175.6 19.2) rotate(49.7)"/><path d="M187 32.6 L168.6 9.4 C167.4 7.6 164.8 7.2 163.6 9.4" stroke="#b4b4b4" stroke-width="0.9" fill="none"/></g><g transform="translate(384.8 0) scale(-1 1)"><rect x="-21.5" y="-3.9" width="43" height="7.8" rx="2.8" fill="#fff" stroke="#231f20" stroke-width="1" transform="translate(175.6 19.2) rotate(49.7)"/><path d="M187 32.6 L168.6 9.4 C167.4 7.6 164.8 7.2 163.6 9.4" stroke="#777" stroke-width="0.9" fill="none"/></g></g>
<g transform="translate(540.9 32.4) scale(0.979) translate(-192.4 -31.5)"><g><path fill="#231f20" d="M156 31.5 L186.5 41.2 L192.4 41.2 L192.4 67.5 L187.4 67.5 C186 75 185.3 100 184.5 116 C184.4 121.5 182.4 125 177.7 126.9 C173 128.7 166 130.1 156 130.8 Z"/><path fill="#f4821f" d="M156 37.9 C165 38.2 174 42 180.6 47.3 L156 47.3 Z"/><path fill="#f4821f" d="M156 48.7 L179.6 48.7 L179.6 49.7 L156.8 59.6 L156 59.6 Z"/><path fill="#f4821f" d="M160.4 60.6 L179.4 51.6 L179.4 52.8 L163 60.4 Z"/><path fill="#f4821f" d="M156.2 70.3 L179.6 59.6 L180.8 61.4 L170 77.5 L165.4 85.0 L156.2 92.8 Z"/><path fill="#f4821f" d="M156.2 95.6 L164.6 88.2 L163.2 95 L162.2 103 L161.0 112 L160.9 115.6 Q159.6 118.8 156.2 118.4 Z"/><path fill="#f4821f" d="M182.0 63.4 L182.4 64.4 L177.4 88 L175.6 100 L173.9 112 Q173.2 117.9 168 117.9 Q163 117.9 162.5 113.5 L163.4 104 L164.4 97 L167.4 87.6 L172 79.5 Z"/><path fill="#f4821f" d="M183.2 62.6 L184.6 65.6 L184.3 90 L183.5 104 L183.2 112.5 Q182.8 116 179.4 116 Q175.9 116 175.6 112.5 L176.9 100 L177.8 92 L179.2 84 Z"/><path fill="#231f20" d="M163 93.5 C166 94.5 166.8 98 165.4 101 L163.8 103 L163 98 Z"/><path fill="#231f20" d="M156 70 L158.6 72.2 L157.1 80.5 L156 81 Z"/><ellipse cx="163.4" cy="118.8" rx="1.8" ry="1.3" fill="#fff" transform="rotate(20 163.4 118.8)"/><ellipse cx="158.4" cy="122.5" rx="1.6" ry="1.3" fill="#fff" transform="rotate(0 158.4 122.5)"/><ellipse cx="169.5" cy="121.1" rx="2.2" ry="1.3" fill="#fff" transform="rotate(25 169.5 121.1)"/><ellipse cx="176.2" cy="119.1" rx="2.5" ry="1.4" fill="#fff" transform="rotate(15 176.2 119.1)"/><ellipse cx="181.5" cy="117.7" rx="1.3" ry="1.1" fill="#fff" transform="rotate(0 181.5 117.7)"/><ellipse cx="163.4" cy="125.4" rx="1.9" ry="1.2" fill="#fff" transform="rotate(10 163.4 125.4)"/><ellipse cx="168.9" cy="126.3" rx="1.9" ry="1.2" fill="#fff" transform="rotate(25 168.9 126.3)"/><ellipse cx="174.8" cy="124.6" rx="2.3" ry="1.4" fill="#fff" transform="rotate(-20 174.8 124.6)"/><ellipse cx="180.3" cy="121.9" rx="1.8" ry="1.1" fill="#fff" transform="rotate(-40 180.3 121.9)"/><ellipse cx="157.5" cy="127.8" rx="1.3" ry="1.1" fill="#fff" transform="rotate(0 157.5 127.8)"/></g><g transform="translate(384.8 0) scale(-1 1)"><path fill="#231f20" d="M156 31.5 L186.5 41.2 L192.4 41.2 L192.4 67.5 L187.4 67.5 C186 75 185.3 100 184.5 116 C184.4 121.5 182.4 125 177.7 126.9 C173 128.7 166 130.1 156 130.8 Z"/><path fill="#f4821f" d="M156 37.9 C165 38.2 174 42 180.6 47.3 L156 47.3 Z"/><path fill="#f4821f" d="M156 48.7 L179.6 48.7 L179.6 49.7 L156.8 59.6 L156 59.6 Z"/><path fill="#f4821f" d="M160.4 60.6 L179.4 51.6 L179.4 52.8 L163 60.4 Z"/><path fill="#f4821f" d="M156.2 70.3 L179.6 59.6 L180.8 61.4 L170 77.5 L165.4 85.0 L156.2 92.8 Z"/><path fill="#f4821f" d="M156.2 95.6 L164.6 88.2 L163.2 95 L162.2 103 L161.0 112 L160.9 115.6 Q159.6 118.8 156.2 118.4 Z"/><path fill="#f4821f" d="M182.0 63.4 L182.4 64.4 L177.4 88 L175.6 100 L173.9 112 Q173.2 117.9 168 117.9 Q163 117.9 162.5 113.5 L163.4 104 L164.4 97 L167.4 87.6 L172 79.5 Z"/><path fill="#f4821f" d="M183.2 62.6 L184.6 65.6 L184.3 90 L183.5 104 L183.2 112.5 Q182.8 116 179.4 116 Q175.9 116 175.6 112.5 L176.9 100 L177.8 92 L179.2 84 Z"/><path fill="#231f20" d="M163 93.5 C166 94.5 166.8 98 165.4 101 L163.8 103 L163 98 Z"/><path fill="#231f20" d="M156 70 L158.6 72.2 L157.1 80.5 L156 81 Z"/><ellipse cx="163.4" cy="118.8" rx="1.8" ry="1.3" fill="#fff" transform="rotate(20 163.4 118.8)"/><ellipse cx="158.4" cy="122.5" rx="1.6" ry="1.3" fill="#fff" transform="rotate(0 158.4 122.5)"/><ellipse cx="169.5" cy="121.1" rx="2.2" ry="1.3" fill="#fff" transform="rotate(25 169.5 121.1)"/><ellipse cx="176.2" cy="119.1" rx="2.5" ry="1.4" fill="#fff" transform="rotate(15 176.2 119.1)"/><ellipse cx="181.5" cy="117.7" rx="1.3" ry="1.1" fill="#fff" transform="rotate(0 181.5 117.7)"/><ellipse cx="163.4" cy="125.4" rx="1.9" ry="1.2" fill="#fff" transform="rotate(10 163.4 125.4)"/><ellipse cx="168.9" cy="126.3" rx="1.9" ry="1.2" fill="#fff" transform="rotate(25 168.9 126.3)"/><ellipse cx="174.8" cy="124.6" rx="2.3" ry="1.4" fill="#fff" transform="rotate(-20 174.8 124.6)"/><ellipse cx="180.3" cy="121.9" rx="1.8" ry="1.1" fill="#fff" transform="rotate(-40 180.3 121.9)"/><ellipse cx="157.5" cy="127.8" rx="1.3" ry="1.1" fill="#fff" transform="rotate(0 157.5 127.8)"/></g><g><ellipse cx="192.4" cy="52.2" rx="10.8" ry="10.6" fill="#231f20"/><path fill="#231f20" d="M183.6 57 L201.2 57 L196.8 67.6 L188 67.6 Z"/><path fill="#231f20" d="M188.4 37.5 L192.4 34.2 L196.4 37.5 L197.2 44 L187.6 44 Z"/><path fill="#231f20" d="M187.8 57 L197.0 57 L196.7 96 C196.5 103 194.9 109 192.4 111.7 C189.9 109 188.3 103 188.1 96 Z"/><path d="M188.4 93.2 Q192.4 95.1 196.4 93.2" stroke="#fff" stroke-width="0.8" fill="none"/><path d="M188.6 97.2 Q192.4 99.1 196.2 97.2" stroke="#fff" stroke-width="0.8" fill="none"/><path d="M189.0 102.0 Q192.4 103.9 195.8 102.0" stroke="#fff" stroke-width="0.8" fill="none"/><path d="M190.0 106.7 Q192.4 108.6 194.8 106.7" stroke="#fff" stroke-width="0.8" fill="none"/><circle cx="189.8" cy="39.6" r="0.9" fill="#fff"/><circle cx="195.0" cy="39.6" r="0.9" fill="#fff"/><circle cx="187.7" cy="43.4" r="1.2" fill="#fff"/><circle cx="197.1" cy="43.4" r="1.2" fill="#fff"/><path d="M190.6 37.4 L186.4 35.2 M194.2 37.4 L198.4 35.2" stroke="#231f20" stroke-width="0.8" fill="none"/></g><g transform="translate(384.8 0) scale(-1 1)"><rect x="-21.5" y="-3.9" width="43" height="7.8" rx="2.8" fill="#fff" stroke="#231f20" stroke-width="1" transform="translate(175.6 19.2) rotate(49.7)"/><path d="M187 32.6 L168.6 9.4 C167.4 7.6 164.8 7.2 163.6 9.4" stroke="#777" stroke-width="0.9" fill="none"/></g></g>
</svg>
</body></html>
